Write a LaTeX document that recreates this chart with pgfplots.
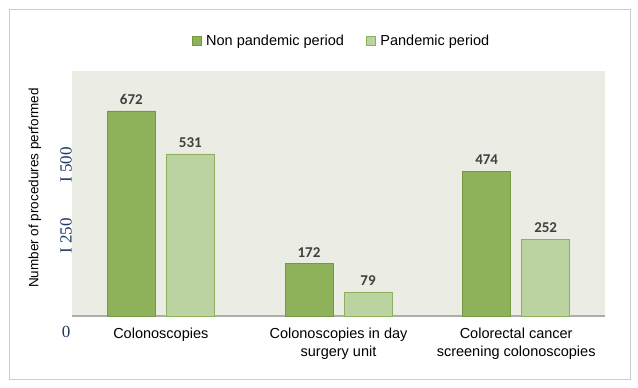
\documentclass[border=0pt]{standalone}
\usepackage{fontspec}
\setmainfont{Liberation Sans}
\newfontfamily\serifnum{Liberation Serif}
\newfontfamily\carl{Carlito}
\usepackage{pgfplots}
\pgfplotsset{compat=1.18}
\definecolor{dkg}{RGB}{142,178,90}
\definecolor{dkgb}{RGB}{118,152,66}
\definecolor{ltg}{RGB}{186,211,160}
\definecolor{ltgb}{RGB}{140,176,92}
\definecolor{bgc}{RGB}{235,237,229}
\definecolor{navy}{RGB}{31,56,100}
\definecolor{lbl}{RGB}{64,64,64}
\begin{document}
\begin{tikzpicture}[x=1bp,y=1bp]
\useasboundingbox (0,0) rectangle (638,387);
\fill[white] (0,0) rectangle (638,387);
\draw[gray!40, line width=1bp] (9.5,8) rectangle (630,377.5);
\begin{axis}[
 at={(72bp,71bp)}, anchor=south west,
 scale only axis, width=533bp, height=245bp,
 xmin=-0.5, xmax=2.5, ymin=0, ymax=803,
 axis background/.style={fill=bgc},
 axis x line*=bottom, axis y line*=left,
 x axis line style={draw=gray!65, line width=1.5bp},
 y axis line style={draw=none},
 major tick length=0pt,
 /pgf/number format/assume math mode=true,
 xtick={0,1,2},
 xticklabels={Colonoscopies, Colonoscopies in day\\surgery unit, Colorectal cancer\\screening colonoscopies},
 xticklabel style={align=center, font=\fontsize{14.5bp}{18bp}\selectfont, yshift=-8bp},
 ytick={275,508},
 yticklabels={I 250, I 500},
 yticklabel style={rotate=90, anchor=south, inner sep=0pt, xshift=-4bp, font=\fontsize{17bp}{20bp}\serifnum, text=navy},
 ybar, bar width=48bp,
 nodes near coords,
 every node near coord/.append style={font=\fontsize{15bp}{17bp}\carl\bfseries, text=lbl, yshift=3bp},
 legend columns=2,
 legend style={draw=none, fill=none, at={(0.5056,1.1224)}, anchor=center, font=\fontsize{14.5bp}{17bp}\selectfont,
   /tikz/every even column/.append style={column sep=20bp},
   /tikz/every odd column/.append style={column sep=3bp}},
 legend image code/.code={\draw[#1] (0bp,-4.5bp) rectangle (9bp,4.5bp);},
]
\addplot[fill=dkg, draw=dkgb, bar shift=-29.5bp] coordinates {(0,672) (1,172) (2,474)};
\addplot[fill=ltg, draw=ltgb, bar shift=29.5bp] coordinates {(0,531) (1,79) (2,252)};
\legend{Non pandemic period, Pandemic period}
\end{axis}
\node[font=\fontsize{17bp}{20bp}\serifnum, text=navy] at (66,55) {0};
\node[rotate=90, font=\fontsize{13.5bp}{16bp}\selectfont] at (35,199) {Number of procedures performed};
\end{tikzpicture}
\end{document}
